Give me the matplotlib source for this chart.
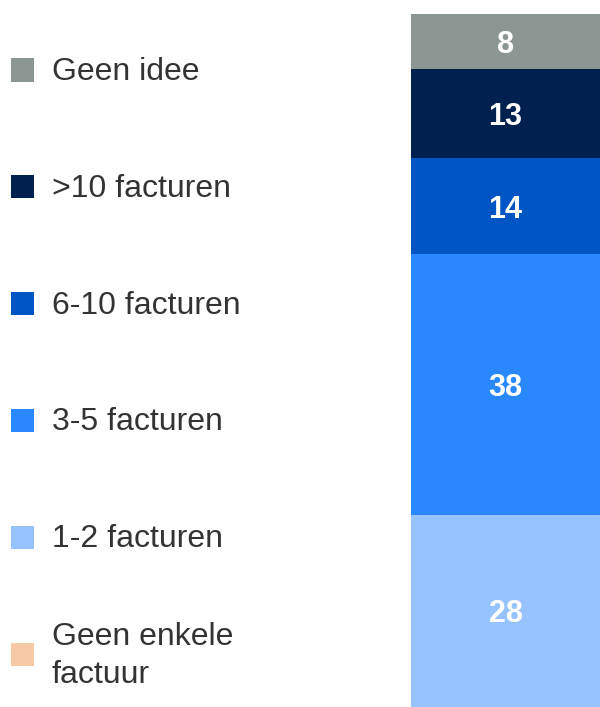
import matplotlib.pyplot as plt
from matplotlib.patches import Rectangle

plt.rcParams['font.family'] = ['Liberation Sans', 'DejaVu Sans']

# bottom -> top
categories = ['Geen enkele\nfactuur', '1-2 facturen', '3-5 facturen',
              '6-10 facturen', '>10 facturen', 'Geen idee']
values = [0, 28, 38, 14, 13, 8]
colors = ['#F6C8A4', '#96C3FF', '#2A88FF', '#0055C4', '#002050', '#8C9693']

fig = plt.figure(figsize=(6.0, 7.07), dpi=100)
W, H = 600, 707

# stacked bar
ax = fig.add_axes([411 / W, 0, 1 - 411 / W, 1 - 14 / H])
bottom = 0
for cat, val, col in zip(categories, values, colors):
    ax.bar(0, val, bottom=bottom, width=1.0, color=col, linewidth=0)
    if val > 0:
        ax.text(0, bottom + val / 2, str(val), ha='center', va='center_baseline',
                color='white', fontsize=22, fontweight='bold')
    bottom += val
ax.set_xlim(-0.5, 0.5)
ax.set_ylim(0, bottom)
ax.axis('off')

# legend (top -> bottom)
for i, (cat, col) in enumerate(zip(categories[::-1], colors[::-1])):
    yc = 70 + 116.8 * i
    fig.patches.append(Rectangle((11 / W, 1 - (yc + 11.5) / H), 23 / W, 23 / H,
                                 transform=fig.transFigure, facecolor=col,
                                 edgecolor='none'))
    fig.text(52 / W, 1 - (yc + 2) / H, cat, ha='left', va='center', fontsize=23,
             color='#333333', linespacing=1.32)

fig.savefig('out.png', dpi=100)
